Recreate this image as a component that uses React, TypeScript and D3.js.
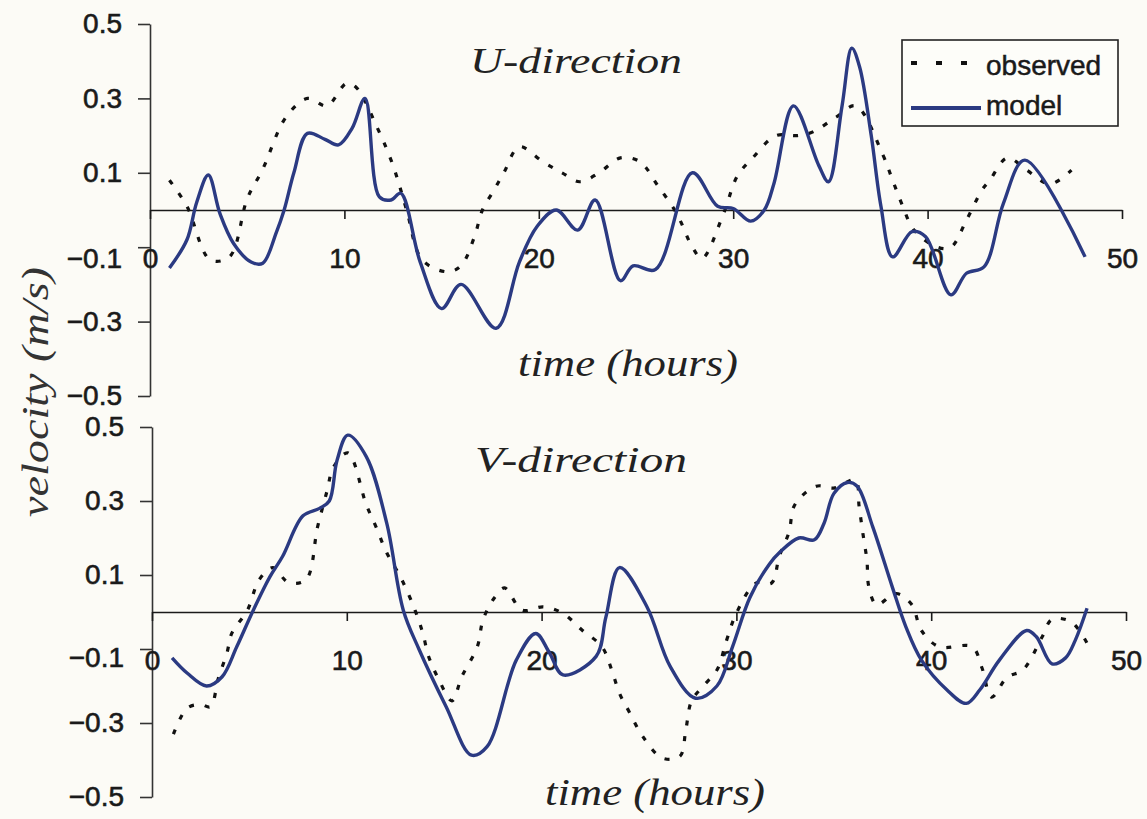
import * as d3 from "d3";
import { useEffect, useRef } from "react";

// U-direction (top panel)
const uModelHours = [1.0, 1.9, 2.4, 3.0, 3.6, 4.3, 5.2, 5.8, 6.5, 6.9, 7.4, 8.1, 9.0, 9.7, 10.4, 11.06, 11.8, 12.4, 12.9, 13.9, 15.0, 16.0, 17.8, 19.0, 19.9, 20.9, 22.0, 22.9, 24.2, 24.85, 26.0, 27.9, 29.2, 30.0, 30.9, 31.6, 32.1, 33.1, 34.4, 34.9, 35.6, 36.1, 36.5, 37.1, 37.6, 38.2, 39.2, 39.9, 41.2, 42.0, 42.9, 43.9, 45.0, 48.1];
const uModel = [-0.156, -0.08, 0.02, 0.094, -0.01, -0.09, -0.14, -0.143, -0.06, 0.0, 0.1, 0.206, 0.19, 0.175, 0.22, 0.3, 0.035, 0.027, 0.045, -0.14, -0.265, -0.2, -0.318, -0.14, -0.045, 0.0, -0.054, 0.027, -0.19, -0.15, -0.16, 0.1, 0.01, 0.004, -0.03, 0.0, 0.072, 0.28, 0.12, 0.076, 0.28, 0.435, 0.385, 0.2, 0.01, -0.126, -0.058, -0.072, -0.228, -0.17, -0.153, 0.018, 0.134, -0.126];
const uObsHours = [1.0, 1.9, 3.1, 4.1, 5.0, 5.8, 7.0, 8.1, 9.1, 10.1, 10.6, 11.7, 12.5, 13.2, 14.0, 15.3, 16.0, 16.7, 17.1, 17.7, 18.2, 19.0, 20.2, 21.2, 22.1, 23.1, 24.2, 25.2, 26.1, 27.1, 27.9, 28.4, 29.5, 30.2, 31.0, 32.2, 33.3, 34.1, 35.3, 36.3, 37.7, 38.2, 38.7, 39.3, 40.5, 41.2, 42.0, 42.8, 43.2, 44.1, 45.1, 46.3, 47.4];
const uObs = [0.08, 0.01, -0.134, -0.125, 0.03, 0.11, 0.25, 0.3, 0.28, 0.34, 0.33, 0.22, 0.12, 0.0, -0.134, -0.166, -0.15, -0.07, 0.0, 0.054, 0.1, 0.17, 0.13, 0.1, 0.076, 0.1, 0.14, 0.13, 0.067, -0.01, -0.1, -0.13, -0.01, 0.09, 0.14, 0.2, 0.2, 0.21, 0.25, 0.28, 0.148, 0.08, 0.013, -0.054, -0.1, -0.1, -0.027, 0.054, 0.08, 0.14, 0.107, 0.07, 0.107];

// V-direction (bottom panel)
const vModelHours = [1.03, 1.8, 2.8, 3.6, 4.35, 5.2, 6.05, 6.7, 7.75, 8.6, 9.1, 9.5, 10.05, 11.0, 12.05, 12.9, 13.7, 15.1, 16.4, 17.2, 18.7, 19.7, 20.4, 21.1, 22.8, 23.3, 24.0, 25.4, 26.6, 27.9, 29.0, 29.8, 30.7, 31.7, 32.2, 33.2, 34.0, 34.5, 35.0, 35.7, 36.2, 37.0, 38.0, 38.7, 39.5, 40.8, 41.8, 42.5, 43.5, 44.9, 45.4, 46.2, 46.9, 47.4, 48.0];
const vModel = [-0.124, -0.165, -0.2, -0.175, -0.094, 0.005, 0.095, 0.15, 0.26, 0.28, 0.3, 0.41, 0.478, 0.42, 0.24, 0.005, -0.1, -0.256, -0.387, -0.364, -0.13, -0.058, -0.11, -0.17, -0.12, -0.014, 0.12, 0.015, -0.147, -0.233, -0.2, -0.094, 0.04, 0.13, 0.16, 0.2, 0.195, 0.24, 0.32, 0.35, 0.34, 0.23, 0.068, -0.04, -0.13, -0.21, -0.247, -0.21, -0.13, -0.05, -0.067, -0.14, -0.124, -0.076, 0.01];
const vObsHours = [1.1, 1.8, 2.5, 3.0, 3.4, 3.85, 4.1, 4.9, 5.5, 6.2, 7.0, 7.9, 8.5, 9.0, 9.3, 10.05, 11.0, 11.5, 12.05, 12.8, 13.5, 13.9, 14.2, 14.7, 15.4, 15.9, 16.7, 17.0, 17.6, 18.1, 19.0, 20.1, 21.1, 22.1, 23.1, 23.6, 24.0, 24.5, 25.2, 26.2, 27.1, 27.4, 27.7, 28.3, 29.0, 29.5, 30.0, 31.0, 31.8, 32.2, 32.7, 33.0, 34.1, 35.0, 36.1, 36.3, 36.5, 36.7, 36.8, 37.2, 38.2, 39.0, 39.5, 40.4, 42.1, 42.6, 43.1, 43.9, 44.7, 45.7, 46.2, 47.2, 48.0];
const vObs = [-0.33, -0.26, -0.25, -0.256, -0.18, -0.11, -0.057, 0.005, 0.087, 0.12, 0.08, 0.087, 0.23, 0.33, 0.39, 0.43, 0.29, 0.23, 0.16, 0.09, 0.005, -0.057, -0.12, -0.18, -0.24, -0.175, -0.094, -0.02, 0.04, 0.065, 0.005, 0.014, -0.004, -0.05, -0.094, -0.157, -0.22, -0.27, -0.337, -0.395, -0.39, -0.32, -0.24, -0.2, -0.157, -0.076, -0.003, 0.078, 0.078, 0.15, 0.216, 0.29, 0.34, 0.335, 0.357, 0.285, 0.21, 0.14, 0.068, 0.02, 0.05, 0.02, -0.05, -0.094, -0.094, -0.15, -0.23, -0.176, -0.157, -0.067, -0.02, -0.027, -0.084];

const xTicks = [0, 10, 20, 30, 40, 50];
const yTicks = [-0.5, -0.3, -0.1, 0.1, 0.3, 0.5];
const seriesNames = ["observed", "model"];

const MODEL_COLOR = "#2b3a82";
const INK = "#1a1a1a";
const SANS = "'Liberation Sans', Arial, sans-serif";
const SERIF = "'Liberation Serif', 'Times New Roman', serif";

type Pt = { h: number; v: number };
const zip = (hs: number[], vs: number[]): Pt[] => hs.map((h, i) => ({ h, v: vs[i] }));

export default function App() {
    const ref = useRef<SVGSVGElement | null>(null);

    useEffect(() => {
        if (!ref.current) return;
        const svg = d3.select(ref.current);
        svg.selectAll("*").remove();

        svg.append("rect").attr("width", 1147).attr("height", 819).attr("fill", "#fcfbf6");

        const panels = [
            { title: "U-direction", xr: [150, 1122], yr: [396, 24], model: zip(uModelHours, uModel), obs: zip(uObsHours, uObs), titleX: 470, titleY: 73, timeX: 518, timeY: 376, minusShift: 11 },
            { title: "V-direction", xr: [152, 1126], yr: [797, 427], model: zip(vModelHours, vModel), obs: zip(vObsHours, vObs), titleX: 475, titleY: 472, timeX: 545, timeY: 805, minusShift: 9 },
        ];

        for (const p of panels) {
            const x = d3.scaleLinear().domain([0, 50]).range(p.xr);
            const y = d3.scaleLinear().domain([-0.5, 0.5]).range(p.yr);
            const g = svg.append("g");

            // y axis
            const ya = g.append("g")
                .attr("transform", `translate(${x(0)},0)`)
                .call(d3.axisLeft(y).tickValues(yTicks).tickSize(12).tickSizeOuter(0).tickPadding(16)
                    .tickFormat((d) => d3.format(".1f")(d as number)));
            ya.select(".domain").attr("stroke", "#333").attr("stroke-width", 1.6);
            ya.selectAll(".tick line").attr("stroke", "#333").attr("stroke-width", 1.6);
            ya.selectAll("text")
                .attr("font-family", SANS).attr("font-size", 28).attr("fill", INK)
                .attr("stroke", INK).attr("stroke-width", 0.6)
                .attr("transform", (d) => ((d as number) === -0.1 ? `translate(0,${p.minusShift})` : null));

            // x axis along the zero line
            const xa = g.append("g")
                .attr("transform", `translate(0,${y(0)})`)
                .call(d3.axisBottom(x).tickValues(xTicks).tickSize(9).tickSizeOuter(0).tickPadding(29)
                    .tickFormat((d) => String(d)));
            xa.select(".domain").attr("stroke", INK).attr("stroke-width", 1.6);
            xa.selectAll(".tick line").attr("stroke", INK).attr("stroke-width", 1.6);
            xa.selectAll("text").attr("font-family", SANS).attr("font-size", 28).attr("fill", INK)
                .attr("stroke", INK).attr("stroke-width", 0.6);

            const line = d3.line<Pt>().x((d) => x(d.h)).y((d) => y(d.v)).curve(d3.curveCatmullRom.alpha(0.5));

            g.append("path").datum(p.obs)
                .attr("fill", "none").attr("stroke", "#111").attr("stroke-width", 3.2)
                .attr("stroke-dasharray", "5,11").attr("d", line);
            g.append("path").datum(p.model)
                .attr("fill", "none").attr("stroke", MODEL_COLOR).attr("stroke-width", 3.4)
                .attr("stroke-linejoin", "round").attr("d", line);

            g.append("text").attr("x", p.titleX).attr("y", p.titleY)
                .attr("font-family", SERIF).attr("font-style", "italic").attr("font-size", 35)
                .attr("fill", "#222").attr("textLength", 212).attr("lengthAdjust", "spacingAndGlyphs")
                .text(p.title);
            g.append("text").attr("x", p.timeX).attr("y", p.timeY)
                .attr("font-family", SERIF).attr("font-style", "italic").attr("font-size", 37)
                .attr("fill", "#222").attr("textLength", 220).attr("lengthAdjust", "spacingAndGlyphs")
                .text("time (hours)");
        }

        svg.append("text")
            .attr("transform", "translate(48,392) rotate(-90)")
            .attr("text-anchor", "middle")
            .attr("font-family", SERIF).attr("font-style", "italic").attr("font-size", 37)
            .attr("fill", "#333").attr("textLength", 250).attr("lengthAdjust", "spacingAndGlyphs")
            .text("velocity (m/s)");

        // legend
        const lg = svg.append("g");
        lg.append("rect").attr("x", 902).attr("y", 40).attr("width", 216).attr("height", 86)
            .attr("fill", "#fdfdf9").attr("stroke", "#222").attr("stroke-width", 1.6);
        lg.append("line").attr("x1", 911).attr("x2", 972).attr("y1", 63).attr("y2", 63)
            .attr("stroke", "#111").attr("stroke-width", 4).attr("stroke-dasharray", "6,19");
        lg.append("line").attr("x1", 911).attr("x2", 981).attr("y1", 108).attr("y2", 108)
            .attr("stroke", MODEL_COLOR).attr("stroke-width", 4);
        lg.selectAll("text.lbl").data(seriesNames).join("text")
            .attr("x", 986).attr("y", (_, i) => 75 + i * 40)
            .attr("font-family", SANS).attr("font-size", 28).attr("fill", INK)
            .attr("stroke", INK).attr("stroke-width", 0.5)
            .text((d) => d);
    }, []);

    return <svg ref={ref} width={1147} height={819} style={{ position: "absolute", left: 0, top: 0 }}></svg>;
}
